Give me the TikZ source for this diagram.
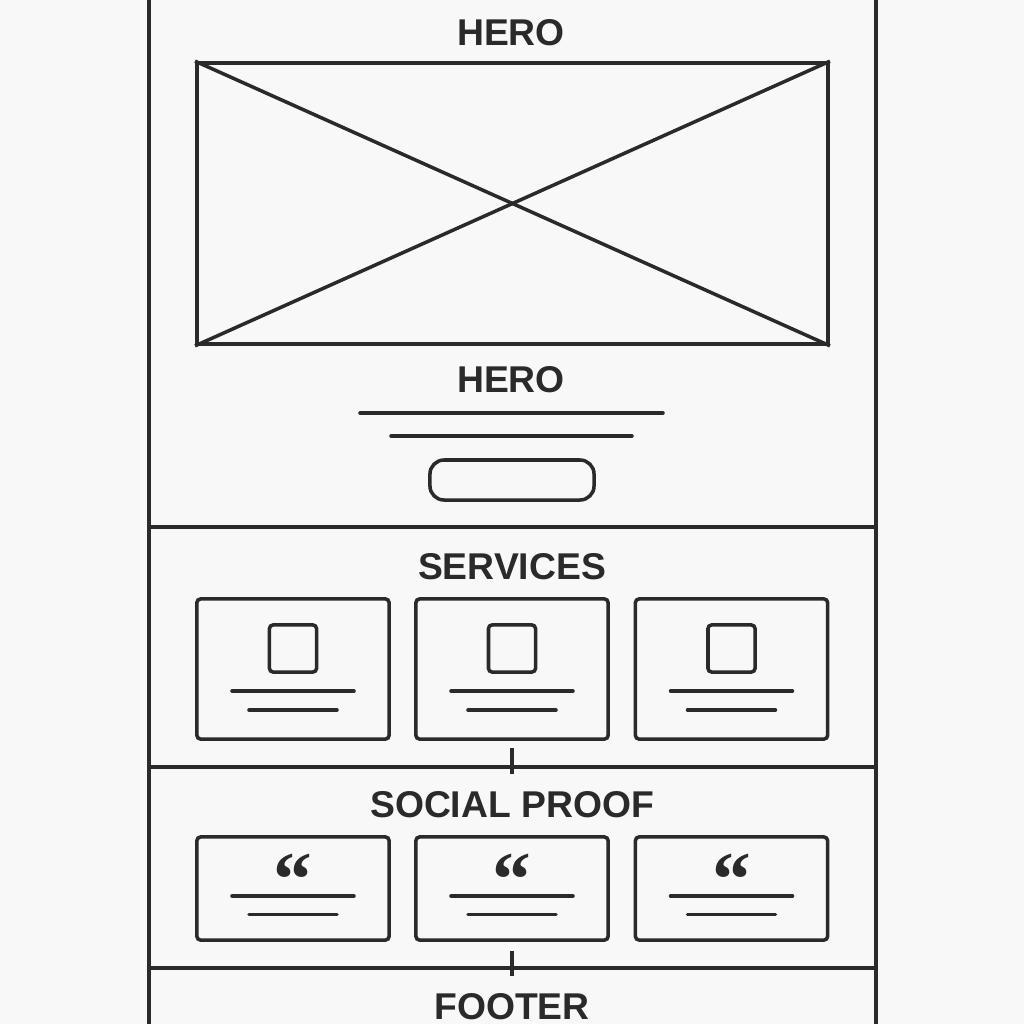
\documentclass[tikz,border=0pt]{standalone}
\usepackage{fontspec}
\setmainfont{Liberation Sans}
\newfontfamily\quotefont{Liberation Serif}
\definecolor{inkgray}{HTML}{2A2A2A}
\definecolor{paper}{HTML}{F8F8F8}
\usetikzlibrary{positioning, calc}
\tikzset{
    frameline/.style={draw=inkgray, line width=1pt},
    sectiontitle/.style={font=\bfseries\fontsize{10.6}{12}\selectfont, text=inkgray, inner sep=0pt},
    imgbox/.style={rectangle, draw=inkgray, line width=1pt, minimum width=6.31cm, minimum height=2.81cm, inner sep=0pt},
    btnbox/.style={rectangle, rounded corners=4pt, draw=inkgray, line width=1pt, minimum width=1.64cm, minimum height=0.40cm, inner sep=0pt},
    servicebox/.style={rectangle, rounded corners=1pt, draw=inkgray, line width=1pt, minimum width=1.92cm, minimum height=1.40cm, inner sep=0pt},
    quotebox/.style={rectangle, rounded corners=1pt, draw=inkgray, line width=1pt, minimum width=1.92cm, minimum height=1.03cm, inner sep=0pt},
    iconbox/.style={rectangle, rounded corners=1pt, draw=inkgray, line width=1pt, minimum size=0.47cm, inner sep=0pt},
    quotemark/.style={font=\quotefont\bfseries\fontsize{22}{22}\selectfont, text=inkgray, inner sep=0pt},
    textline/.style={draw=inkgray, line width=1pt, line cap=round},
}

\begin{document}
\begin{tikzpicture}[x=0.01cm, y=-0.01cm]
    \fill[paper] (0,0) rectangle (1024,1024);
    \useasboundingbox (0,0) rectangle (1024,1024);

    % page frame and section separators
    \draw[frameline] (149,0) -- (149,1024);
    \draw[frameline] (876,0) -- (876,1024);
    \draw[frameline] (149,527) -- (876,527);
    \draw[frameline] (149,767) -- (876,767);
    \draw[frameline] (149,968) -- (876,968);

    % hero
    \node[sectiontitle] (herotop) at (511,33) {HERO};
    \node[imgbox] (heroimg) at (512.5,203.5) {};
    \draw[frameline] (heroimg.north west) -- (heroimg.south east);
    \draw[frameline] (heroimg.south west) -- (heroimg.north east);
    \node[sectiontitle] (herotitle) at (511,380) {HERO};
    \draw[textline] ($(herotitle)+(-151,33)$) -- ++(303,0);
    \draw[textline] ($(herotitle)+(-120,56)$) -- ++(241,0);
    \node[btnbox] (herobtn) at (512,480) {};

    % services
    \node[sectiontitle] (svctitle) at (512,567) {SERVICES};
    \node[servicebox] (svcA) at (293,669) {};
    \node[servicebox] (svcB) at (512,669) {};
    \node[servicebox] (svcC) at (731.5,669) {};
    \node[iconbox, below=0.26cm of svcA.north] (iconA) {};
    \node[iconbox, below=0.26cm of svcB.north] (iconB) {};
    \node[iconbox, below=0.26cm of svcC.north] (iconC) {};
    \draw[textline] ($(svcA)+(-61,22)$) -- ++(122,0);
    \draw[textline] ($(svcA)+(-44,41)$) -- ++(88,0);
    \draw[textline] ($(svcB)+(-61,22)$) -- ++(122,0);
    \draw[textline] ($(svcB)+(-44,41)$) -- ++(88,0);
    \draw[textline] ($(svcC)+(-61,22)$) -- ++(122,0);
    \draw[textline] ($(svcC)+(-44,41)$) -- ++(88,0);

    % tick between services and social proof
    \coordinate (tickA) at (512,761);
    \draw[frameline] (tickA) ++(0,-13) -- ++(0,26);

    % social proof
    \node[sectiontitle] (prooftitle) at (512,805) {SOCIAL PROOF};
    \node[quotebox] (quoteA) at (293,888.5) {};
    \node[quotebox] (quoteB) at (512,888.5) {};
    \node[quotebox] (quoteC) at (731.5,888.5) {};
    \node[quotemark] (qmA) at ($(quoteA)+(0,-9)$) {“};
    \node[quotemark] (qmB) at ($(quoteB)+(0,-9)$) {“};
    \node[quotemark] (qmC) at ($(quoteC)+(0,-9)$) {“};
    \draw[textline] ($(quoteA)+(-61,7.5)$) -- ++(122,0);
    \draw[textline] ($(quoteA)+(-44,26)$) -- ++(88,0);
    \draw[textline] ($(quoteB)+(-61,7.5)$) -- ++(122,0);
    \draw[textline] ($(quoteB)+(-44,26)$) -- ++(88,0);
    \draw[textline] ($(quoteC)+(-61,7.5)$) -- ++(122,0);
    \draw[textline] ($(quoteC)+(-44,26)$) -- ++(88,0);

    % tick between social proof and footer
    \coordinate (tickB) at (512,963.5);
    \draw[frameline] (tickB) ++(0,-12.5) -- ++(0,25);

    % footer
    \node[sectiontitle] (foottitle) at (512,1007) {FOOTER};
\end{tikzpicture}
\end{document}
